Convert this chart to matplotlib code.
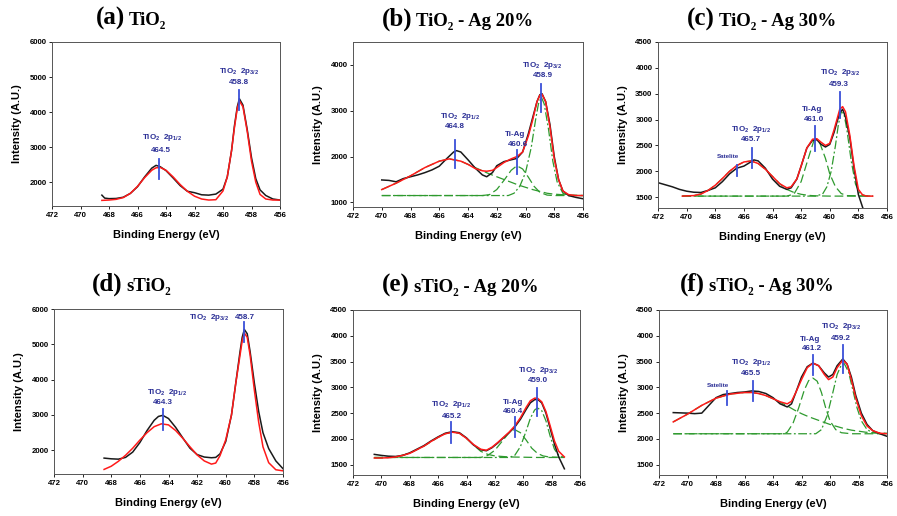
import numpy as np
import matplotlib
matplotlib.use("Agg")
import matplotlib.pyplot as plt

plt.rcParams['font.family'] = ['Liberation Sans', 'DejaVu Sans']
plt.rcParams['mathtext.fontset'] = 'custom'
plt.rcParams['mathtext.bf'] = 'Liberation Sans:bold'
plt.rcParams['mathtext.rm'] = 'Liberation Sans:bold'
plt.rcParams['mathtext.default'] = 'bf'

# ---------------- data ----------------
# (a) TiO2
a_black_x = [468.5, 468.3, 468.0, 467.5, 467.0, 466.5, 466.0, 465.5, 465.0, 464.7, 464.4, 464.0, 463.5, 463.0, 462.5,
             462.0, 461.5, 461.0, 460.5, 460.0, 459.7, 459.4, 459.2, 459.0, 458.85, 458.6, 458.3, 458.0, 457.7, 457.4,
             457.0, 456.5, 456.0]
a_black_y = [1630, 1545, 1530, 1535, 1570, 1680, 1870, 2150, 2400, 2480, 2440, 2330, 2120, 1900, 1740,
             1700, 1640, 1630, 1660, 1800, 2150, 2900, 3600, 4150, 4380, 4200, 3500, 2700, 2100, 1780,
             1620, 1520, 1490]
a_red_x = [468.5, 468.0, 467.5, 467.0, 466.5, 466.0, 465.5, 465.0, 464.7, 464.4, 464.0, 463.5, 463.0, 462.5, 462.0,
           461.5, 461.0, 460.5, 460.0, 459.7, 459.4, 459.2, 459.0, 458.85, 458.6, 458.3, 458.0, 457.7, 457.4, 457.0,
           456.5, 456.0]
a_red_y = [1480, 1490, 1510, 1560, 1680, 1880, 2130, 2340, 2410, 2420, 2340, 2150, 1930, 1740, 1600,
           1520, 1490, 1500, 1750, 2150, 2900, 3550, 4100, 4320, 4150, 3450, 2600, 2000, 1650, 1520,
           1490, 1490]

# (b) TiO2 - Ag 20%
b_black_x = [470, 469.5, 469, 468.5, 468, 467.5, 467, 466.5, 466, 465.5, 465, 464.8, 464.5, 464, 463.5, 463, 462.7,
             462.3, 462, 461.5, 461, 460.6, 460.2, 459.8, 459.5, 459.2, 459, 458.85, 458.6, 458.3, 458, 457.7, 457.4,
             457, 456.5, 456]
b_black_y = [1490, 1480, 1450, 1520, 1560, 1600, 1650, 1710, 1790, 1950, 2100, 2130, 2100, 1930, 1750, 1600, 1560,
             1650, 1800, 1890, 1930, 1960, 2100, 2500, 2850, 3200, 3350, 3370, 3200, 2700, 2000, 1500, 1250,
             1150, 1110, 1080]
b_red_x = [470, 469, 468, 467, 466, 465.3, 464.5, 464, 463.5, 463, 462.7, 462.3, 462, 461.5, 461, 460.6, 460.2,
           459.8, 459.5, 459.2, 459, 458.85, 458.6, 458.3, 458, 457.7, 457.4, 457, 456.5, 456]
b_red_y = [1280, 1420, 1580, 1760, 1900, 1950, 1900, 1830, 1740, 1690, 1680, 1700, 1760, 1870, 1950, 2000, 2100,
           2450, 2800, 3200, 3340, 3360, 3200, 2650, 1950, 1500, 1250, 1170, 1150, 1150]
b_g1_x = [470, 469, 468, 467, 466, 465.3, 464.5, 464, 463.5, 463, 462.5, 462, 461.5, 461, 460.5, 460, 459.5, 459,
          458.5, 458, 457, 456]
b_g1_y = [1280, 1420, 1580, 1760, 1900, 1950, 1900, 1830, 1760, 1690, 1620, 1560, 1500, 1440, 1380, 1330, 1280, 1240,
          1200, 1180, 1160, 1150]
b_g2_x = [470, 463, 462.5, 462, 461.5, 461, 460.6, 460.2, 459.8, 459.4, 459, 458.5, 458, 456]
b_g2_y = [1150, 1150, 1170, 1280, 1480, 1700, 1800, 1730, 1550, 1350, 1220, 1160, 1150, 1150]
b_g3_x = [470, 461.2, 460.8, 460.4, 460, 459.6, 459.3, 459.1, 458.9, 458.7, 458.4, 458.1, 457.8, 457.4, 457, 456]
b_g3_y = [1150, 1150, 1200, 1350, 1650, 2200, 2800, 3150, 3300, 3150, 2600, 1900, 1450, 1200, 1150, 1150]

# (c) TiO2 - Ag 30%
c_black_x = [472, 471.5, 471, 470.5, 470, 469.5, 469, 468.5, 468, 467.5, 467, 466.5, 466, 465.7, 465.3, 465, 464.5,
             464, 463.5, 463, 462.7, 462.3, 462, 461.6, 461.2, 460.9, 460.6, 460.3, 460, 459.7, 459.5, 459.3, 459.1,
             458.9, 458.6, 458.3, 458, 457.7]
c_black_y = [1780, 1740, 1700, 1650, 1615, 1595, 1590, 1630, 1680, 1800, 1950, 2060, 2100, 2150, 2220, 2200, 2060,
             1850, 1710, 1650, 1680, 1850, 2100, 2450, 2600, 2610, 2520, 2470, 2520, 2750, 2950, 3130, 3200,
             3050, 2650, 2050, 1550, 1300]
c_red_x = [470.3, 469.5, 469, 468.5, 468, 467.5, 467, 466.5, 466, 465.5, 465, 464.5, 464, 463.5, 463, 462.7, 462.3,
           462, 461.6, 461.2, 460.9, 460.6, 460.3, 460, 459.7, 459.5, 459.3, 459.1, 458.9, 458.6, 458.3, 458, 457.7,
           457.4, 457]
c_red_y = [1520, 1530, 1560, 1630, 1730, 1860, 2000, 2110, 2180, 2200, 2150, 2040, 1900, 1760, 1680, 1700, 1850,
           2100, 2450, 2620, 2630, 2560, 2500, 2540, 2800, 3000, 3200, 3250, 3150, 2700, 2100, 1650, 1540,
           1520, 1520]
c_g1_x = [470.3, 469.5, 469, 468.5, 468, 467.5, 467, 466.5, 466, 465.5, 465, 464.5, 464, 463.5, 463, 462.5, 462,
          461.5, 461, 460, 459, 458, 457]
c_g1_y = [1520, 1530, 1560, 1630, 1730, 1860, 2000, 2110, 2180, 2200, 2150, 2040, 1900, 1760, 1650, 1590, 1555,
          1535, 1525, 1520, 1520, 1520, 1520]
c_g2_x = [470.3, 463, 462.5, 462, 461.5, 461.1, 460.7, 460.3, 460, 459.6, 459.2, 458.8, 457]
c_g2_y = [1520, 1520, 1560, 1800, 2250, 2600, 2550, 2250, 1950, 1700, 1570, 1530, 1520]
c_g3_x = [470.3, 461, 460.5, 460.2, 459.9, 459.6, 459.4, 459.2, 459, 458.8, 458.5, 458.2, 457.9, 457.5, 457]
c_g3_y = [1520, 1520, 1560, 1700, 2000, 2500, 2900, 3150, 3100, 2800, 2200, 1750, 1570, 1525, 1520]

# (d) sTiO2
d_black_x = [468.5, 468, 467.5, 467, 466.5, 466, 465.5, 465, 464.7, 464.4, 464, 463.5, 463, 462.5, 462, 461.5, 461,
             460.7, 460.4, 460, 459.6, 459.3, 459, 458.85, 458.7, 458.5, 458.3, 458, 457.7, 457.4, 457, 456.5, 456]
d_black_y = [1780, 1760, 1750, 1800, 1950, 2220, 2560, 2850, 2960, 2990, 2900, 2650, 2350, 2060, 1880, 1810, 1790,
             1800, 1900, 2250, 3000, 3900, 4800, 5200, 5420, 5300, 4800, 3900, 3100, 2500, 2050, 1700, 1480]
d_red_x = [468.5, 468, 467.5, 467, 466.5, 466, 465.5, 465, 464.5, 464, 463.5, 463, 462.5, 462, 461.5, 461, 460.7,
           460.4, 460, 459.6, 459.3, 459, 458.85, 458.7, 458.5, 458.3, 458, 457.7, 457.4, 457, 456.5, 456]
d_red_y = [1460, 1550, 1690, 1860, 2060, 2290, 2500, 2670, 2750, 2720, 2560, 2340, 2100, 1870, 1700, 1610, 1640,
           1850, 2300, 3000, 3900, 4700, 5100, 5320, 5200, 4700, 3700, 2800, 2100, 1650, 1450, 1420]

# (e) sTiO2 - Ag 20%
e_black_x = [470.5, 470, 469.5, 469, 468.5, 468, 467.5, 467, 466.5, 466, 465.5, 465, 464.5, 464, 463.5, 463, 462.6,
             462.2, 461.8, 461.4, 461, 460.6, 460.2, 459.8, 459.5, 459.2, 459, 458.7, 458.4, 458.1, 457.8, 457.5, 457.1]
e_black_y = [1700, 1680, 1665, 1660, 1680, 1730, 1800, 1870, 1960, 2040, 2110, 2140, 2120, 2020, 1880, 1790, 1770,
             1830, 1920, 2020, 2120, 2230, 2380, 2570, 2700, 2760, 2770, 2700, 2500, 2200, 1900, 1650, 1420]
e_red_x = e_black_x
e_red_y = [1630, 1630, 1635, 1650, 1680, 1720, 1790, 1860, 1950, 2030, 2100, 2130, 2110, 2010, 1890, 1800, 1780,
           1840, 1930, 2030, 2130, 2250, 2410, 2610, 2740, 2790, 2790, 2720, 2530, 2250, 1960, 1760, 1650]
e_g1_x = [470.5, 470, 469, 468, 467, 466, 465.5, 465, 464.5, 464, 463.5, 463, 462.5, 462, 461, 460, 459, 458, 457.1]
e_g1_y = [1630, 1630, 1650, 1720, 1860, 2030, 2100, 2130, 2110, 2010, 1880, 1760, 1700, 1670, 1650, 1645, 1640, 1640,
          1640]
e_g2_x = [470.5, 463, 462.5, 462, 461.5, 461, 460.6, 460.2, 459.8, 459.4, 459, 458.6, 458.2, 457.1]
e_g2_y = [1640, 1640, 1680, 1780, 1950, 2120, 2180, 2120, 1980, 1820, 1720, 1670, 1650, 1640]
e_g3_x = [470.5, 461, 460.6, 460.2, 459.8, 459.5, 459.2, 459, 458.7, 458.4, 458.1, 457.8, 457.5, 457.1]
e_g3_y = [1640, 1640, 1680, 1850, 2150, 2400, 2560, 2600, 2550, 2350, 2050, 1800, 1680, 1640]

# (f) sTiO2 - Ag 30%
f_black_x = [471, 470.5, 470, 469.5, 469, 468.5, 468, 467.5, 467, 466.5, 466, 465.5, 465, 464.5, 464, 463.5, 463,
             462.7, 462.4, 462, 461.6, 461.2, 460.8, 460.4, 460.1, 459.8, 459.5, 459.1, 458.8, 458.5, 458.2, 457.8,
             457.4, 457, 456.5, 456]
f_black_y = [2510, 2505, 2500, 2490, 2500, 2650, 2800, 2860, 2880, 2900, 2910, 2930, 2920, 2880, 2800, 2680, 2620,
             2680, 2900, 3200, 3400, 3470, 3420, 3280, 3200, 3250, 3420, 3550, 3450, 3200, 2850, 2500,
             2280, 2160, 2100, 2050]
f_red_x = [471, 470, 469, 468, 467, 466, 465.5, 465, 464.5, 464, 463.5, 463, 462.7, 462.4, 462, 461.6, 461.2, 460.8,
           460.4, 460.1, 459.8, 459.5, 459.1, 458.8, 458.5, 458.2, 457.8, 457.4, 457, 456.5, 456]
f_red_y = [2330, 2480, 2650, 2790, 2870, 2900, 2900, 2880, 2840, 2780, 2720, 2680, 2730, 2900, 3150, 3380, 3470, 3420,
           3250, 3150, 3200, 3380, 3530, 3450, 3150, 2800, 2450, 2250, 2160, 2110, 2100]
f_g1_x = [471, 470, 469, 468, 467, 466, 465.5, 465, 464.5, 464, 463.5, 463, 462.5, 462, 461.5, 461, 460.5, 460, 459.5,
          459, 458.5, 458, 457.5, 457, 456]
f_g1_y = [2330, 2480, 2650, 2790, 2870, 2900, 2900, 2880, 2840, 2780, 2710, 2640, 2560, 2490, 2430, 2380, 2330, 2280,
          2240, 2200, 2170, 2150, 2130, 2120, 2110]
f_g2_x = [471, 463.3, 463, 462.6, 462.2, 461.8, 461.5, 461.2, 460.9, 460.6, 460.3, 460, 459.6, 459.2, 458.5, 456]
f_g2_y = [2100, 2100, 2130, 2300, 2600, 2950, 3130, 3180, 3120, 2900, 2600, 2350, 2180, 2120, 2100, 2100]
f_g3_x = [471, 461, 460.6, 460.2, 459.8, 459.5, 459.2, 459, 458.7, 458.4, 458.1, 457.8, 457.4, 457, 456]
f_g3_y = [2100, 2100, 2180, 2450, 2900, 3250, 3440, 3460, 3300, 2950, 2600, 2350, 2180, 2120, 2100]

P32 = "TiO$_2$  2p$_{3/2}$"
P12 = "TiO$_2$  2p$_{1/2}$"
# peak labels (text, x, y) and marker bars (x, y0, y1)
a_notes = [(P32, 458.87, 5172), ("458.8", 458.87, 4830), (P12, 464.3, 3263), ("464.5", 464.35, 2911)]
a_marks = [(458.85, 4050, 4620), (464.5, 2085, 2655)]
b_notes = [(P32, 458.82, 3978), ("458.9", 458.82, 3760), ("Ti-Ag", 460.7, 2471), ("460.6", 460.5, 2253),
           (P12, 464.54, 2872), ("464.8", 464.9, 2653)]
b_marks = [(458.9, 2980, 3585), (460.6, 1620, 2145), (464.9, 1743, 2360)]
c_notes = [(P32, 459.3, 3913), ("459.3", 459.34, 3687), ("Ti-Ag", 461.24, 3190), ("461.0", 461.1, 2997),
           (P12, 465.48, 2816), ("465.7", 465.52, 2610), ("Satelite", 467.14, 2287)]
c_marks = [(459.3, 3029, 3526), (461.0, 2384, 2868), (465.4, 2061, 2448), (466.5, 1900, 2113)]
d_notes = [(P32, 461.16, 5763), ("458.7", 458.64, 5763), (P12, 464.13, 3649), ("464.3", 464.36, 3365)]
d_marks = [(458.7, 5052, 5640), (464.35, 2569, 3156)]
e_notes = [(P32, 458.92, 3319), ("459.0", 458.99, 3137), ("Ti-Ag", 460.7, 2714), ("460.4", 460.75, 2539),
           (P12, 465.06, 2668), ("465.2", 465.06, 2428)]
e_marks = [(459.0, 2443, 2994), (460.6, 2032, 2420), (465.1, 1922, 2323)]
f_notes = [(P32, 459.24, 4177), ("459.2", 459.22, 3945), ("Ti-Ag", 461.37, 3919), ("461.2", 461.25, 3752),
           (P12, 465.53, 3481), ("465.5", 465.53, 3268), ("Satelite", 467.86, 3036)]
f_marks = [(459.1, 3287, 3816), (461.2, 3242, 3623), (465.4, 2732, 3119), (467.2, 2648, 2937)]

letters = ["(a)", "(b)", "(c)", "(d)", "(e)", "(f)"]
names = ["TiO\u2082", "TiO\u2082 - Ag 20%", "TiO\u2082 - Ag 30%",
         "sTiO\u2082", "sTiO\u2082 - Ag 20%", "sTiO\u2082 - Ag 30%"]

# ---------------- layout (pixels) ----------------
W, H = 897, 516
fig = plt.figure(figsize=(W / 100, H / 100), dpi=100)

boxes = [(52, 42, 280, 206), (353, 42, 583, 207), (658, 42, 887, 208),
         (54, 309, 283, 474), (353, 310, 580, 475), (659, 310, 887, 475)]
ylims = [(1320, 6000), (900, 4500), (1290, 4500), (1330, 6000), (1300, 4500), (1300, 4500)]
yticks = [range(2000, 6001, 1000), range(1000, 4001, 1000), range(1500, 4501, 500),
          range(2000, 6001, 1000), range(1500, 4501, 500), range(1500, 4501, 500)]
title_pos = [(125, 25), (412, 26), (715, 26), (122, 291), (410, 292), (705, 291)]

panels = [
    dict(k=(a_black_x, a_black_y), r=(a_red_x, a_red_y), g=[], n=a_notes, m=a_marks),
    dict(k=(b_black_x, b_black_y), r=(b_red_x, b_red_y),
         g=[(b_g1_x, b_g1_y), (b_g2_x, b_g2_y), (b_g3_x, b_g3_y)], n=b_notes, m=b_marks),
    dict(k=(c_black_x, c_black_y), r=(c_red_x, c_red_y),
         g=[(c_g1_x, c_g1_y), (c_g2_x, c_g2_y), (c_g3_x, c_g3_y)], n=c_notes, m=c_marks),
    dict(k=(d_black_x, d_black_y), r=(d_red_x, d_red_y), g=[], n=d_notes, m=d_marks),
    dict(k=(e_black_x, e_black_y), r=(e_red_x, e_red_y),
         g=[(e_g1_x, e_g1_y), (e_g2_x, e_g2_y), (e_g3_x, e_g3_y)], n=e_notes, m=e_marks),
    dict(k=(f_black_x, f_black_y), r=(f_red_x, f_red_y),
         g=[(f_g1_x, f_g1_y), (f_g2_x, f_g2_y), (f_g3_x, f_g3_y)], n=f_notes, m=f_marks),
]

green_styles = [(0, (7, 3)), (0, (7, 3)), (0, (7, 2, 1.5, 2))]
serif = ['Liberation Serif', 'DejaVu Serif']

for i, p in enumerate(panels):
    l, t, r, b = boxes[i]
    ax = fig.add_axes([l / W, 1 - b / H, (r - l) / W, (b - t) / H])
    for j, (gx, gy) in enumerate(p['g']):
        ax.plot(gx, gy, color='#2e9a2e', lw=0.9, ls=green_styles[j])
    ax.plot(*p['k'], color='#1a1a1a', lw=1.1)
    ax.plot(*p['r'], color='#ff1a1a', lw=1.1)
    for mx, y0, y1 in p['m']:
        ax.plot([mx, mx], [y0, y1], color='#3a4fd8', lw=1.3)
    for txt, tx, ty in p['n']:
        fs = 4.5 if txt == "Satelite" else 5.8
        ax.text(tx, ty, txt, ha='center', va='center', fontsize=fs, fontweight='bold', color='#2b2f96')

    ax.set_xlim(472, 456)
    ax.set_ylim(*ylims[i])
    ax.set_xticks(range(472, 455, -2))
    ax.set_yticks(list(yticks[i]))
    ax.tick_params(labelsize=5.6, length=2, width=0.6, direction='out', pad=2)
    for lab in ax.get_xticklabels() + ax.get_yticklabels():
        lab.set_fontweight('bold')
    for s in ax.spines.values():
        s.set_color('#555555')
        s.set_linewidth(0.7)
    ax.set_xlabel("Binding Energy (eV)", fontsize=8, fontweight='bold', labelpad=8)
    ax.set_ylabel("Intensity (A.U.)", fontsize=8, fontweight='bold', labelpad=5)

    tx, ty = title_pos[i]
    fig.text(tx / W, 1 - ty / H, letters[i], ha='right', va='baseline', fontsize=18,
             fontweight='bold', family=serif)
    fig.text((tx + 4) / W, 1 - ty / H, names[i], ha='left', va='baseline', fontsize=13.5,
             fontweight='bold', family=serif)

fig.savefig("out.png", dpi=100)
